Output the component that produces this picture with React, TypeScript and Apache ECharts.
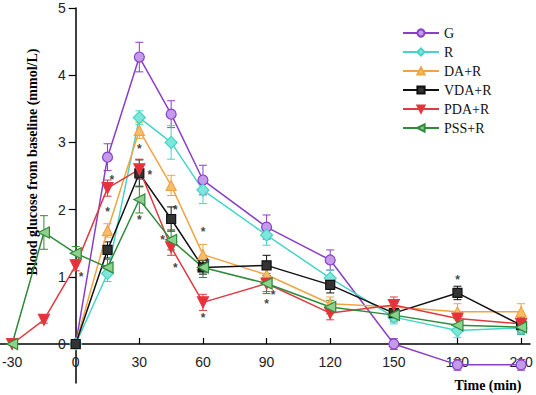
import React, { useEffect, useRef } from "react";
import * as echarts from "echarts";

const timesA = [0, 15, 30, 45, 60, 90, 120, 150, 180, 210];
const timesB = [-30, -15, 0, 15, 30, 45, 60, 90, 120, 150, 180, 210];

const gVals = [0, 2.78, 4.27, 3.42, 2.44, 1.74, 1.25, 0, -0.31, -0.31];
const gErr = [0, 0.2, 0.22, 0.2, 0.22, 0.18, 0.15, 0.08, 0.08, 0.08];
const rVals = [0, 1.05, 3.37, 3.0, 2.29, 1.62, 0.98, 0.4, 0.2, 0.24];
const rErr = [0, 0.12, 0.1, 0.25, 0.2, 0.15, 0.12, 0.1, 0.1, 0.1];
const daVals = [0, 1.69, 3.18, 2.36, 1.33, 1.03, 0.6, 0.55, 0.48, 0.48];
const daErr = [0, 0.1, 0.12, 0.15, 0.15, 0.12, 0.1, 0.1, 0.12, 0.12];
const vdaVals = [0, 1.4, 2.54, 1.86, 1.14, 1.17, 0.88, 0.46, 0.76, 0.28];
const vdaErr = [0, 0.12, 0.2, 0.18, 0.1, 0.15, 0.12, 0.1, 0.1, 0.1];
const pdaVals = [0, 0.36, 1.17, 2.32, 2.6, 1.44, 0.62, 0.9, 0.46, 0.58, 0.38, 0.3];
const pdaErr = [0, 0.05, 0.08, 0.12, 0.15, 0.12, 0.12, 0.12, 0.1, 0.12, 0.1, 0.1];
const pssVals = [0, 1.66, 1.35, 1.14, 2.15, 1.55, 1.14, 0.9, 0.55, 0.43, 0.28, 0.25];
const pssErr = [0, 0.25, 0.1, 0.12, 0.2, 0.15, 0.15, 0.15, 0.1, 0.1, 0.1, 0.1];

const starT = [2.5, 15, 17, 30, 35, 30, 47, 41, 47, 60, 62, 58, 60, 93, 90, 180];
const starV = [1.0, 1.96, 2.44, 2.9, 2.52, 1.84, 2.0, 1.55, 1.13, 1.66, 1.2, 1.05, 0.39, 0.73, 0.6, 0.95];

const yTicks = [0, 1, 2, 3, 4, 5];
const xTicks = [-30, 0, 30, 60, 90, 120, 150, 180, 210];

const X_MIN = -35.7;
const X_MAX = 214.2;
const Y_MIN = -0.58;
const Y_MAX = 5;

const groups = [
  { name: "G", t: timesA, v: gVals, e: gErr, color: "#8a3fc8", fill: "#c49be8", symbol: "circle", rot: 0, size: 10 },
  { name: "R", t: timesA, v: rVals, e: rErr, color: "#45d5c8", fill: "#7fe6dc", symbol: "diamond", rot: 0, size: 12 },
  { name: "DA+R", t: timesA, v: daVals, e: daErr, color: "#f2a444", fill: "#f6bd6c", symbol: "triangle", rot: 0, size: 10 },
  { name: "VDA+R", t: timesA, v: vdaVals, e: vdaErr, color: "#111111", fill: "#333333", symbol: "rect", rot: 0, size: 9 },
  { name: "PDA+R", t: timesB, v: pdaVals, e: pdaErr, color: "#e03a40", fill: "#e8303a", symbol: "triangle", rot: 180, size: 11 },
  { name: "PSS+R", t: timesB, v: pssVals, e: pssErr, color: "#2e8b3a", fill: "#8fd08f", symbol: "triangle", rot: 90, size: 11 },
];

export default function App() {
  const ref = useRef<HTMLDivElement>(null);
  useEffect(() => {
    if (!ref.current) return;
    const chart = echarts.init(ref.current, null, { renderer: "svg" });
    const W = 536;
    const H = 395;
    const gl = 0, gr = 6, gt = 8, gb = 12;
    const gw = W - gl - gr;
    const gh = H - gt - gb;
    const xZeroOff = (gw * (0 - X_MIN)) / (X_MAX - X_MIN);
    const yZeroOff = (gh * (0 - Y_MIN)) / (Y_MAX - Y_MIN);

    const series: any[] = [];
    groups.forEach((g) => {
      const color = g.color;
      series.push({
        name: g.name + "-err",
        type: "custom",
        z: 1,
        data: g.t.map((t, i) => [t, g.v[i], g.e[i]]),
        encode: { x: 0, y: 1 },
        renderItem: (params: any, api: any) => {
          const x = api.value(0);
          const v = api.value(1);
          const e = api.value(2);
          if (!e) return null;
          const hi = api.coord([x, v + e]);
          const lo = api.coord([x, v - e]);
          const w = 4;
          const st = { stroke: color, lineWidth: 1 };
          return {
            type: "group",
            children: [
              { type: "line", shape: { x1: hi[0], y1: hi[1], x2: lo[0], y2: lo[1] }, style: st },
              { type: "line", shape: { x1: hi[0] - w, y1: hi[1], x2: hi[0] + w, y2: hi[1] }, style: st },
              { type: "line", shape: { x1: lo[0] - w, y1: lo[1], x2: lo[0] + w, y2: lo[1] }, style: st },
            ],
          };
        },
      });
      series.push({
        name: g.name,
        type: "line",
        z: 3,
        data: g.t.map((t, i) => [t, g.v[i]]),
        symbol: g.symbol,
        symbolRotate: g.rot,
        symbolSize: g.size,
        showAllSymbol: true,
        lineStyle: { color, width: 1.5 },
        itemStyle: { color: g.fill, borderColor: color, borderWidth: 1.2 },
      });
    });
    series.push({
      name: "stars",
      type: "scatter",
      z: 5,
      symbolSize: 2,
      itemStyle: { color: "rgba(0,0,0,0)" },
      data: starT.map((t, i) => [t, starV[i]]),
      label: {
        show: true,
        position: "inside",
        formatter: "*",
        fontSize: 12,
        fontWeight: "bold",
        color: "#111",
      },
      labelLayout: { hideOverlap: false },
    });

    chart.setOption({
      animation: false,
      backgroundColor: "#ffffff",
      grid: { left: gl, right: gr, top: gt, bottom: gb, containLabel: false, outerBoundsMode: "none" },
      legend: {
        orient: "vertical",
        left: 397,
        top: 21,
        itemWidth: 36,
        itemHeight: 9,
        itemGap: 5,
        data: groups.map((g) => g.name),
        textStyle: { fontFamily: "Liberation Serif", fontSize: 14, color: "#111" },
      },
      xAxis: {
        type: "value",
        min: X_MIN,
        max: X_MAX,
        position: "bottom",
        offset: -yZeroOff,
        axisLine: { onZero: false, lineStyle: { color: "#000", width: 1.5 } },
        axisTick: { inside: true, length: 6, customValues: xTicks, lineStyle: { color: "#000", width: 1.2 } },
        axisLabel: {
          customValues: xTicks,
          margin: 11,
          fontFamily: "Liberation Sans",
          fontSize: 14,
          color: "#222",
        },
        splitLine: { show: false },
      },
      yAxis: {
        type: "value",
        min: Y_MIN,
        max: Y_MAX,
        position: "left",
        offset: -xZeroOff,
        axisLine: { onZero: false, lineStyle: { color: "#000", width: 1.5 } },
        axisTick: { inside: false, length: 7, customValues: yTicks, lineStyle: { color: "#000", width: 1.2 } },
        axisLabel: {
          customValues: yTicks,
          margin: 10,
          fontFamily: "Liberation Sans",
          fontSize: 14,
          color: "#222",
        },
        splitLine: { show: false },
      },
      graphic: [
        {
          type: "text",
          x: 32,
          y: 162,
          rotation: Math.PI / 2,
          style: {
            text: "Blood glucose from baseline (mmol/L)",
            font: 'bold 14px "Liberation Serif"',
            align: "center",
            verticalAlign: "middle",
            textAlign: "center",
            textVerticalAlign: "middle",
            fill: "#000",
          },
        },
        {
          type: "text",
          x: 488,
          y: 385,
          style: {
            text: "Time (min)",
            font: 'bold 14px "Liberation Serif"',
            align: "center",
            verticalAlign: "middle",
            textAlign: "center",
            textVerticalAlign: "middle",
            fill: "#000",
          },
        },
      ],
      series,
    });
    return () => chart.dispose();
  }, []);
  return (
    <div
      ref={ref}
      style={{ position: "fixed", left: 0, top: 0, width: 536, height: 395, background: "#fff" }}
    />
  );
}
